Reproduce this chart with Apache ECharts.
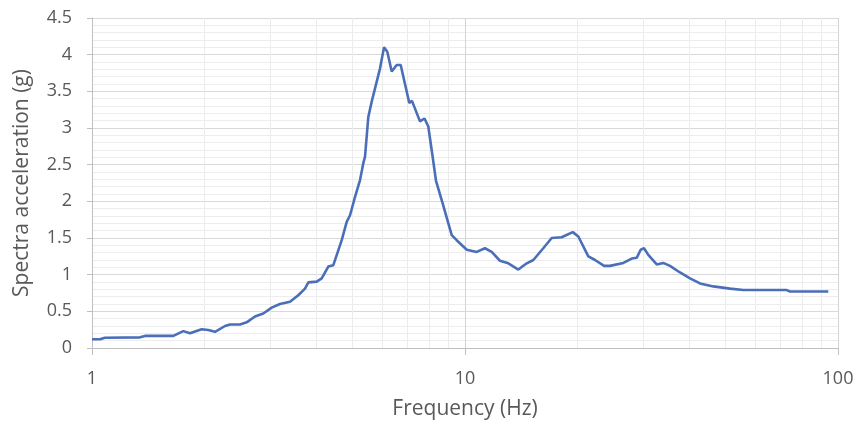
<!DOCTYPE html>
<html>
<head>
<meta charset="utf-8">
<script src="https://cdn.jsdelivr.net/npm/echarts@6/dist/echarts.min.js"></script>
<style>
html,body{margin:0;padding:0;background:#fff;}
#chart{width:858px;height:428px;}
</style>
</head>
<body>
<div id="chart"></div>
<script>
// Frequency (Hz) samples
const frequency = [1.0, 1.051, 1.083, 1.345, 1.387, 1.652, 1.757, 1.831, 1.968, 2.05, 2.137, 2.273, 2.344, 2.493, 2.598, 2.735, 2.879, 3.032, 3.192, 3.395, 3.573, 3.724, 3.802, 4.004, 4.129, 4.3, 4.436, 4.672, 4.818, 4.918, 5.072, 5.231, 5.338, 5.395, 5.505, 5.622, 5.917, 6.066, 6.19, 6.361, 6.56, 6.724, 7.09, 7.209, 7.574, 7.787, 7.972, 8.141, 8.361, 8.704, 9.212, 9.5, 10.11, 10.75, 11.31, 11.79, 12.41, 13.07, 13.9, 14.64, 15.25, 16.21, 17.08, 18.16, 19.45, 20.13, 21.41, 22.32, 23.59, 24.47, 26.58, 27.99, 28.86, 29.58, 30.2, 31.0, 32.66, 34.01, 35.44, 37.71, 40.11, 42.66, 46.31, 51.34, 55.74, 72.87, 74.37, 94.19];
// Spectral acceleration (g)
const acceleration = [0.12, 0.12, 0.14, 0.145, 0.165, 0.165, 0.23, 0.2, 0.255, 0.245, 0.22, 0.3, 0.32, 0.32, 0.35, 0.43, 0.47, 0.55, 0.6, 0.63, 0.72, 0.81, 0.895, 0.905, 0.95, 1.11, 1.13, 1.47, 1.72, 1.81, 2.06, 2.29, 2.52, 2.61, 3.15, 3.36, 3.81, 4.1, 4.04, 3.77, 3.86, 3.86, 3.34, 3.37, 3.09, 3.13, 3.02, 2.7, 2.28, 1.98, 1.54, 1.47, 1.34, 1.31, 1.36, 1.31, 1.19, 1.155, 1.07, 1.155, 1.2, 1.36, 1.5, 1.51, 1.58, 1.52, 1.25, 1.2, 1.12, 1.12, 1.16, 1.22, 1.23, 1.34, 1.36, 1.27, 1.14, 1.16, 1.12, 1.03, 0.95, 0.88, 0.84, 0.81, 0.79, 0.79, 0.77, 0.77];
// Minor log gridline values
const minorFreqs = [2, 3, 4, 5, 6, 7, 8, 9, 20, 30, 40, 50, 60, 70, 80, 90];
const xTicks = ['1', '10', '100'];
const yTicks = ['0', '0.5', '1', '1.5', '2', '2.5', '3', '3.5', '4', '4.5'];

const FONT = '"Open Sans", sans-serif';
const chart = echarts.init(document.getElementById('chart'), null, {renderer: 'canvas'});
chart.setOption({
  animation: false,
  backgroundColor: '#ffffff',
  grid: {left: 92, right: 20, top: 18, bottom: 80, containLabel: false},
  xAxis: {
    type: 'log', logBase: 10, min: 1, max: 100,
    name: 'Frequency (Hz)', nameLocation: 'middle', nameGap: 51,
    nameTextStyle: {color: '#595959', fontSize: 21, fontFamily: FONT},
    axisLine: {show: true, lineStyle: {color: '#bfbfbf', width: 1}},
    axisTick: {show: true, length: 7, lineStyle: {color: '#bfbfbf'}},
    axisLabel: {color: '#595959', fontSize: 18, fontFamily: FONT, margin: 22,
      formatter: v => xTicks.includes(String(v)) ? String(v) : ''},
    splitLine: {show: true, lineStyle: {color: '#d4d4d4', width: 1}}
  },
  yAxis: {
    type: 'value', min: 0, max: 4.5, interval: 0.5,
    name: 'Spectra acceleration (g)', nameLocation: 'middle', nameGap: 59,
    nameTextStyle: {color: '#595959', fontSize: 21, fontFamily: FONT},
    axisLine: {show: true, lineStyle: {color: '#bfbfbf', width: 1}},
    axisTick: {show: true, length: 5, lineStyle: {color: '#bfbfbf'}},
    axisLabel: {color: '#595959', fontSize: 18, fontFamily: FONT, margin: 20,
      formatter: v => yTicks[Math.round(v / 0.5)]},
    splitLine: {show: true, lineStyle: {color: '#d9d9d9', width: 1}},
    minorTick: {show: false, splitNumber: 5},
    minorSplitLine: {show: true, lineStyle: {color: '#ededed', width: 1}}
  },
  series: [
    {
      type: 'line', data: [], silent: true, z: 1,
      markLine: {
        silent: true, symbol: ['none', 'none'], animation: false,
        label: {show: false},
        lineStyle: {color: '#ececec', type: 'solid', width: 1},
        data: minorFreqs.map(f => ({xAxis: f}))
      }
    },
    {
      type: 'line', z: 5,
      data: frequency.map((f, i) => [f, acceleration[i]]),
      showSymbol: false, symbol: 'none', smooth: false,
      lineStyle: {color: '#4a6fb8', width: 2.6},
      itemStyle: {color: '#4a6fb8'}
    }
  ]
});
</script>
</body>
</html>
